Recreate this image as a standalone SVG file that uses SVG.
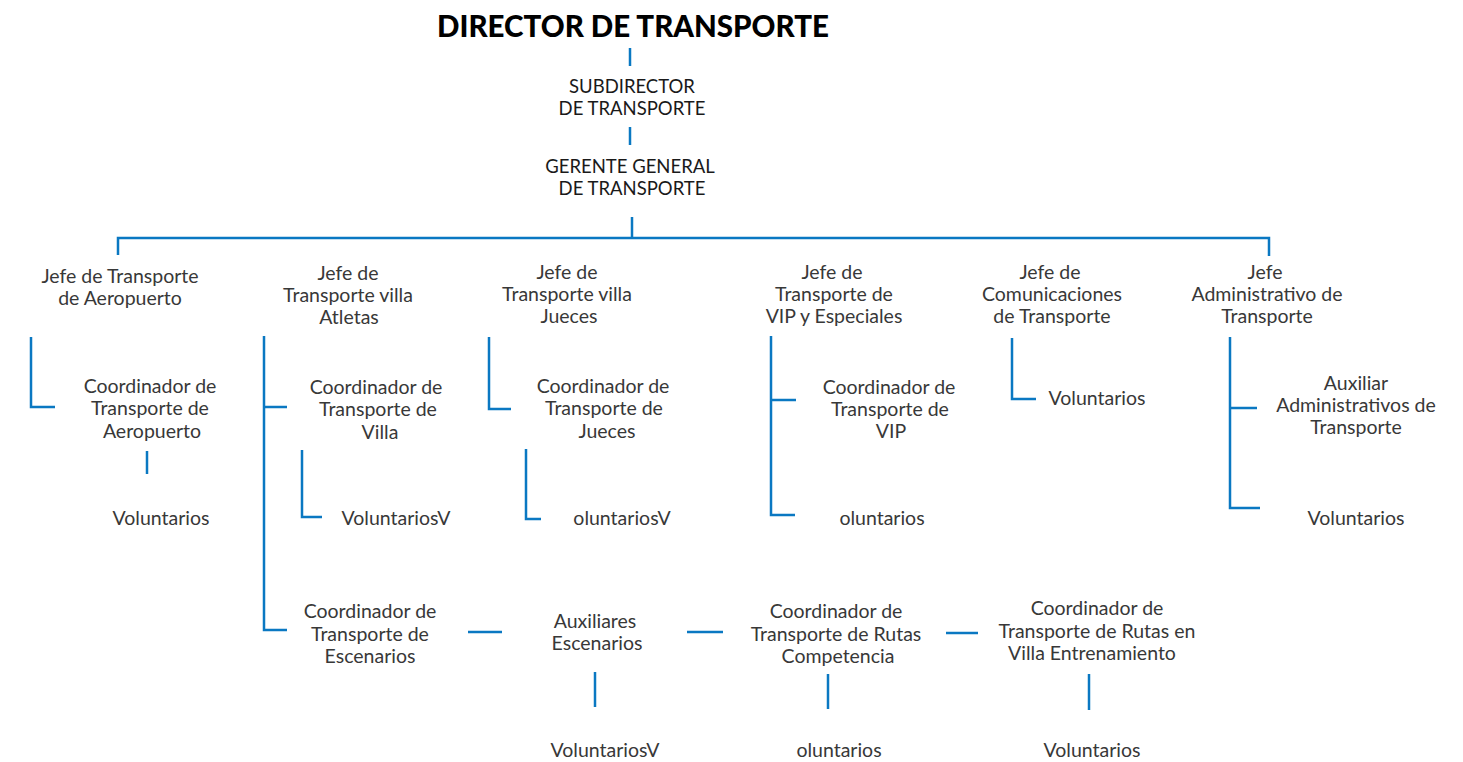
<svg xmlns="http://www.w3.org/2000/svg" width="1463" height="762" viewBox="0 0 1463 762">
<style>
  text { font-family: Lato, "Noto Sans", "Liberation Sans", sans-serif; font-size: 19.5px; fill: #383838; text-anchor: middle; }
  .title { font-size: 29.5px; font-weight: 900; fill: #000000; }
  .caps { font-size: 18.5px; fill: #1a1a1a; }
  .ln { stroke: #0a78c2; stroke-width: 2.5; fill: none; }
</style>
<rect width="1463" height="762" fill="#ffffff"/>
<g id="connectors">
  <line class="ln" x1="630" y1="48" x2="630" y2="66"/>
  <line class="ln" x1="630" y1="127" x2="630" y2="145"/>
  <line class="ln" x1="632" y1="217" x2="632" y2="238"/>
  <polyline class="ln" points="118,255 118,238 1269,238 1269,256"/>
  <polyline class="ln" points="31,337 31,407 55,407"/>
  <line class="ln" x1="147" y1="451" x2="147" y2="474"/>
  <polyline class="ln" points="287,407 264,407"/>
  <polyline class="ln" points="264,336 264,630 287,630"/>
  <polyline class="ln" points="302,450 302,517 322,517"/>
  <polyline class="ln" points="489,337 489,409 511,409"/>
  <polyline class="ln" points="526,449 526,519 541,519"/>
  <polyline class="ln" points="771,336 771,515 795,515"/>
  <line class="ln" x1="771" y1="400" x2="796" y2="400"/>
  <polyline class="ln" points="1012,338 1012,399 1036,399"/>
  <polyline class="ln" points="1230,337 1230,508 1260,508"/>
  <line class="ln" x1="1230" y1="408" x2="1257" y2="408"/>
  <line class="ln" x1="468" y1="632" x2="502" y2="632"/>
  <line class="ln" x1="687" y1="632" x2="723" y2="632"/>
  <line class="ln" x1="946" y1="633" x2="978" y2="633"/>
  <line class="ln" x1="595" y1="672" x2="595" y2="707"/>
  <line class="ln" x1="828" y1="674" x2="828" y2="709"/>
  <line class="ln" x1="1089" y1="674" x2="1089" y2="710"/>
</g>
<g id="director"><text class="title" x="633" y="37">DIRECTOR DE TRANSPORTE</text></g>
<g id="subdirector"><text class="caps" x="632" y="93">SUBDIRECTOR</text><text class="caps" x="632" y="115">DE TRANSPORTE</text></g>
<g id="gerente"><text class="caps" x="630" y="173">GERENTE GENERAL</text><text class="caps" x="632" y="195">DE TRANSPORTE</text></g>
<g id="jefe-aeropuerto"><text x="120" y="283">Jefe de Transporte</text><text x="120" y="305">de Aeropuerto</text></g>
<g id="jefe-atletas"><text x="348" y="280">Jefe de</text><text x="348" y="302">Transporte villa</text><text x="349" y="324">Atletas</text></g>
<g id="jefe-jueces"><text x="567" y="279">Jefe de</text><text x="567" y="301">Transporte villa</text><text x="569" y="323">Jueces</text></g>
<g id="jefe-vip"><text x="832" y="279">Jefe de</text><text x="834" y="301">Transporte de</text><text x="834" y="323">VIP y Especiales</text></g>
<g id="jefe-comunicaciones"><text x="1050" y="279">Jefe de</text><text x="1052" y="301">Comunicaciones</text><text x="1052" y="323">de Transporte</text></g>
<g id="jefe-administrativo"><text x="1265" y="279">Jefe</text><text x="1267" y="301">Administrativo de</text><text x="1267" y="323">Transporte</text></g>
<g id="coord-aeropuerto"><text x="150" y="393">Coordinador de</text><text x="150" y="415">Transporte de</text><text x="152" y="438">Aeropuerto</text></g>
<g id="vol-aeropuerto"><text x="161" y="525">Voluntarios</text></g>
<g id="coord-villa"><text x="376" y="394">Coordinador de</text><text x="378" y="416">Transporte de</text><text x="380" y="439">Villa</text></g>
<g id="vol-villa"><text x="396" y="525">VoluntariosV</text></g>
<g id="coord-jueces"><text x="603" y="393">Coordinador de</text><text x="604" y="415">Transporte de</text><text x="607" y="438">Jueces</text></g>
<g id="vol-jueces"><text x="622" y="525">oluntariosV</text></g>
<g id="coord-vip"><text x="889" y="394">Coordinador de</text><text x="890" y="416">Transporte de</text><text x="891" y="438">VIP</text></g>
<g id="vol-vip"><text x="882" y="525">oluntarios</text></g>
<g id="vol-comunicaciones"><text x="1097" y="405">Voluntarios</text></g>
<g id="aux-administrativos"><text x="1356" y="390">Auxiliar</text><text x="1356" y="412">Administrativos de</text><text x="1356" y="434">Transporte</text></g>
<g id="vol-administrativo"><text x="1356" y="525">Voluntarios</text></g>
<g id="coord-escenarios"><text x="370" y="618">Coordinador de</text><text x="370" y="641">Transporte de</text><text x="370" y="663">Escenarios</text></g>
<g id="aux-escenarios"><text x="595" y="628">Auxiliares</text><text x="597" y="650">Escenarios</text></g>
<g id="coord-rutas"><text x="836" y="618">Coordinador de</text><text x="836" y="641">Transporte de Rutas</text><text x="838" y="663">Competencia</text></g>
<g id="coord-entrenamiento"><text x="1097" y="615">Coordinador de</text><text x="1097" y="638">Transporte de Rutas en</text><text x="1092" y="660">Villa Entrenamiento</text></g>
<g id="vol-escenarios"><text x="605" y="757">VoluntariosV</text></g>
<g id="vol-rutas"><text x="839" y="757">oluntarios</text></g>
<g id="vol-entrenamiento"><text x="1092" y="757">Voluntarios</text></g>
</svg>
